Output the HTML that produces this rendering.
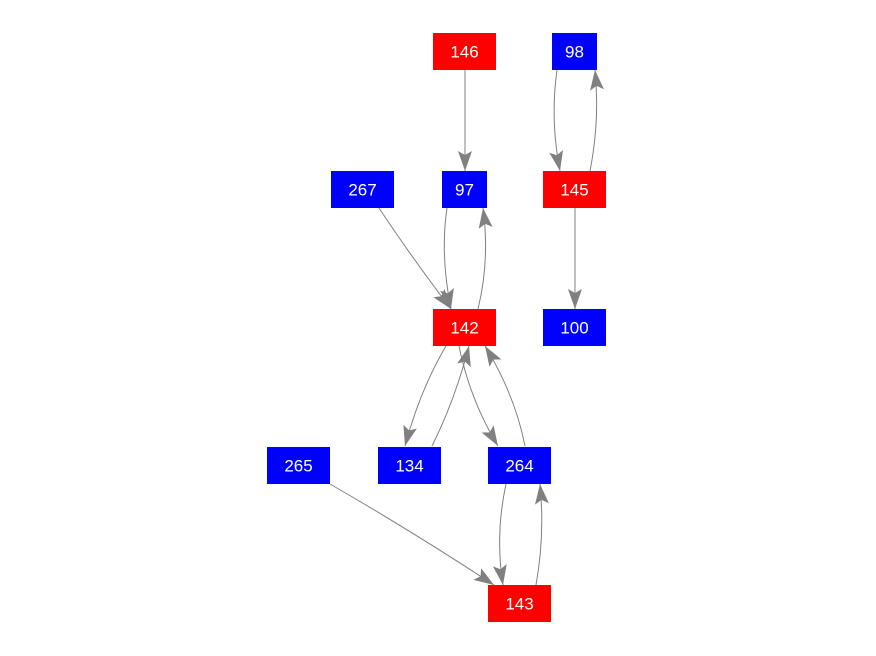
<!DOCTYPE html>
<html><head><style>
html,body{margin:0;padding:0;background:#fff;}
svg{display:block;}
text{font-family:"Liberation Sans",sans-serif;font-size:17px;fill:#fff;text-anchor:middle;dominant-baseline:central;}
</style></head><body>
<svg width="876" height="656" viewBox="0 0 876 656">
<defs>
<marker id="a" markerUnits="userSpaceOnUse" markerWidth="22" markerHeight="16" refX="20" refY="7" orient="auto">
<path d="M0,0 L20,7 L0,14 L4,7 z" fill="#808080"/>
</marker>
</defs>
<g stroke="#808080" stroke-width="1" fill="none" marker-end="url(#a)">
<path d="M465,70 L465,171"/>
<path d="M557,70 Q550,120 560,171"/>
<path d="M590,171 Q600,120 595,70"/>
<path d="M575,208 L575,309"/>
<path d="M379,208 Q410,255 451,309"/>
<path d="M447,208 Q440,255 451,309"/>
<path d="M478,309 Q490,260 483,208"/>
<path d="M446,346 Q420,390 405,446"/>
<path d="M432,446 Q455,400 469,346"/>
<path d="M459,346 Q470,400 498,446"/>
<path d="M525,446 Q515,395 485,346"/>
<path d="M330,484 Q410,530 494,585"/>
<path d="M506,484 Q495,535 503,585"/>
<path d="M536,585 Q545,535 540,484"/>
</g>
<rect x="433" y="33" width="63" height="37" fill="#f00"/><text x="464.5" y="52">146</text>
<rect x="552" y="33" width="45" height="37" fill="#00f"/><text x="574.5" y="52">98</text>
<rect x="331" y="171" width="63" height="37" fill="#00f"/><text x="362.5" y="190">267</text>
<rect x="442" y="171" width="45" height="37" fill="#00f"/><text x="464.5" y="190">97</text>
<rect x="543" y="171" width="63" height="37" fill="#f00"/><text x="574.5" y="190">145</text>
<rect x="433" y="309" width="63" height="37" fill="#f00"/><text x="464.5" y="328">142</text>
<rect x="543" y="309" width="63" height="37" fill="#00f"/><text x="574.5" y="328">100</text>
<rect x="267" y="447" width="63" height="37" fill="#00f"/><text x="298.5" y="466">265</text>
<rect x="378" y="447" width="63" height="37" fill="#00f"/><text x="409.5" y="466">134</text>
<rect x="488" y="447" width="63" height="37" fill="#00f"/><text x="519.5" y="466">264</text>
<rect x="488" y="585" width="63" height="37" fill="#f00"/><text x="519.5" y="604">143</text>
</svg>
</body></html>
